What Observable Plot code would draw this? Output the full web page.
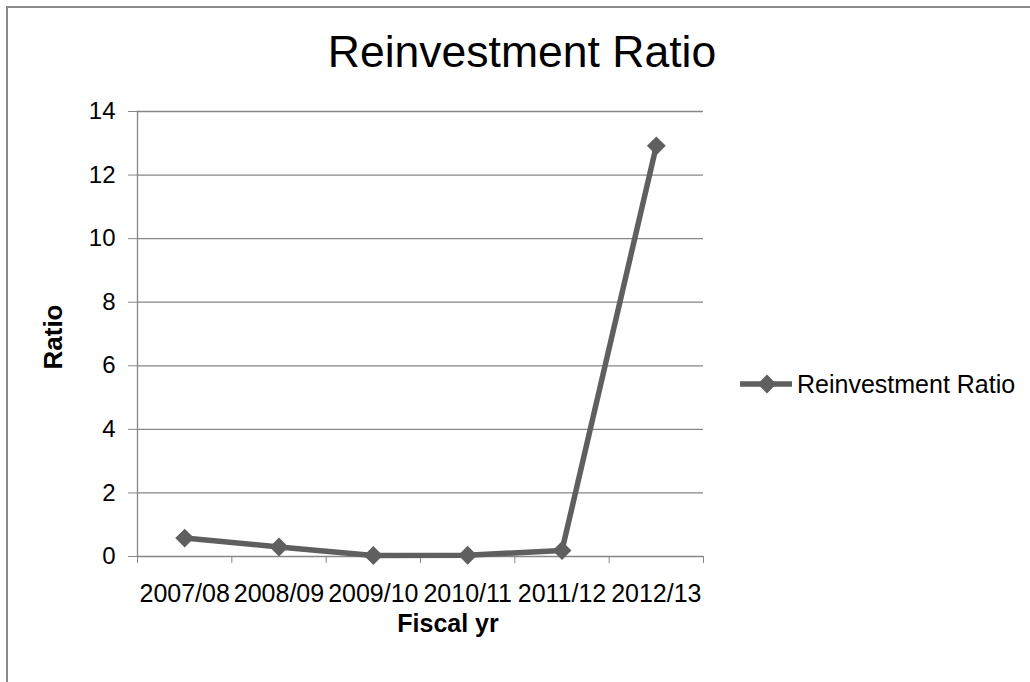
<!DOCTYPE html>
<html>
<head>
<meta charset="utf-8">
<script src="https://cdn.jsdelivr.net/npm/d3@7"></script>
<script src="https://cdn.jsdelivr.net/npm/@observablehq/plot@0.6"></script>
<style>
  html, body { margin: 0; padding: 0; background: #fff; }
  #chart { position: relative; width: 1030px; height: 682px; overflow: hidden; }
</style>
</head>
<body>
<div id="chart"></div>
<script>
const title = "Reinvestment Ratio";
const seriesName = "Reinvestment Ratio";
const xTitle = "Fiscal yr";
const yTitle = "Ratio";
const categories = ["2007/08", "2008/09", "2009/10", "2010/11", "2011/12", "2012/13"];
const values = [0.58, 0.3, 0.03, 0.04, 0.19, 12.92];
const yTicks = [0, 2, 4, 6, 8, 10, 12, 14];

const data = categories.map((c, i) => ({cat: c, idx: i + 0.5, value: values[i]}));
const lineColor = "#5f5f5f";
const gridColor = "#868686";
const font = "'Liberation Sans', Arial, sans-serif";

const plot = Plot.plot({
  width: 1030,
  height: 682,
  marginLeft: 137,
  marginRight: 327,
  marginTop: 111,
  marginBottom: 126,
  style: {fontFamily: font, fontSize: "24px", color: "black", background: "white"},
  x: {type: "linear", domain: [0, categories.length]},
  y: {domain: [0, 14]},
  marks: [
    Plot.gridY(yTicks.filter(d => d > 0), {stroke: gridColor, strokeOpacity: 1, strokeWidth: 1.3}),
    Plot.axisY({ticks: yTicks, tickSize: 9, tickPadding: 13, stroke: gridColor, fill: "black", label: null, fontSize: 24}),
    Plot.ruleX([0], {stroke: gridColor, strokeWidth: 1.3}),
    Plot.ruleY([0], {stroke: gridColor, strokeWidth: 1.3}),
    Plot.axisX({ticks: d3.range(0, categories.length + 1), tickFormat: () => "", tickSize: 7, stroke: gridColor, label: null}),
    Plot.axisX({ticks: data.map(d => d.idx), tickFormat: v => categories[Math.floor(v)], tickSize: 0, tickPadding: 28, fill: "black", label: null, fontSize: 25}),
    Plot.line(data, {x: "idx", y: "value", stroke: lineColor, strokeWidth: 5.5, strokeLinejoin: "round"}),
    Plot.dot(data, {x: "idx", y: "value", symbol: "diamond2", r: 8.5, fill: lineColor, stroke: null})
  ]
});

document.getElementById("chart").appendChild(plot);
const svg = d3.select(plot);

// border of chart area
svg.append("path").attr("d", "M7,682V7H1030").attr("fill", "none").attr("stroke", "#8a8a8a").attr("stroke-width", 2);

// title
svg.append("text").attr("x", 522).attr("y", 67).attr("text-anchor", "middle")
  .attr("font-size", 44.5).attr("font-family", font).attr("fill", "black").text(title);

// axis titles
svg.append("text").attr("x", 448).attr("y", 632).attr("text-anchor", "middle")
  .attr("font-size", 25).attr("font-weight", "bold").attr("font-family", font).attr("fill", "black").text(xTitle);
svg.append("text").attr("transform", "translate(62,337) rotate(-90)").attr("text-anchor", "middle")
  .attr("font-size", 26).attr("font-weight", "bold").attr("font-family", font).attr("fill", "black").text(yTitle);

// legend
const lg = svg.append("g").attr("transform", "translate(740,384)");
lg.append("line").attr("x1", 0).attr("x2", 52).attr("y1", 0).attr("y2", 0).attr("stroke", lineColor).attr("stroke-width", 5.5);
lg.append("path").attr("d", d3.symbol(d3.symbolDiamond2, Math.PI * 8.5 * 8.5)()).attr("transform", "translate(27,0)").attr("fill", lineColor);
lg.append("text").attr("x", 57).attr("y", 9).attr("text-anchor", "start").attr("font-size", 25).attr("font-family", font).attr("fill", "black").text(seriesName);
</script>
</body>
</html>
